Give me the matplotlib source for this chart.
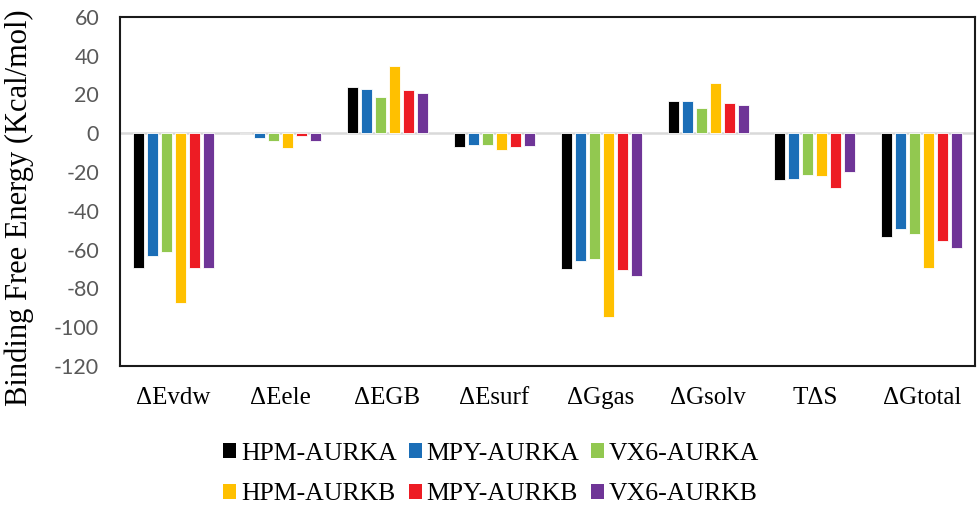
import numpy as np
import matplotlib.pyplot as plt
from matplotlib.patches import Patch

plt.rcParams['axes.unicode_minus'] = False

# Компоненты свободной энергии связывания (ккал/моль)
categories = ['ΔEvdw', 'ΔEele', 'ΔEGB', 'ΔEsurf', 'ΔGgas', 'ΔGsolv', 'TΔS', 'ΔGtotal']
complexes = ['HPM-AURKA', 'MPY-AURKA', 'VX6-AURKA', 'HPM-AURKB', 'MPY-AURKB', 'VX6-AURKB']

hpm_aurka = [-69.6, -0.3, 23.9, -6.9, -69.8, 16.8, -24.3, -53.3]
mpy_aurka = [-63.3, -2.2, 22.7, -6.2, -65.9, 16.7, -23.7, -49.4]
vx6_aurka = [-61.0, -4.1, 18.7, -5.9, -65.0, 13.0, -21.5, -52.1]
hpm_aurkb = [-87.4, -7.6, 34.7, -8.6, -94.9, 25.9, -22.0, -69.3]
mpy_aurkb = [-69.3, -1.2, 22.3, -6.9, -70.7, 15.6, -28.0, -55.4]
vx6_aurkb = [-69.6, -4.0, 20.8, -6.4, -73.8, 14.4, -20.1, -59.2]

series = [hpm_aurka, mpy_aurka, vx6_aurka, hpm_aurkb, mpy_aurkb, vx6_aurkb]
colors = ['#000000', '#1B6EB7', '#92C850', '#FFC000', '#ED1C24', '#6F3597']

fig = plt.figure(figsize=(9.77, 5.12), dpi=100)
ax = fig.add_axes([0.1228, 0.285, 0.8755, 0.682])

x = np.arange(len(categories))
pitch = 0.131
width = 0.103
for i, (vals, c) in enumerate(zip(series, colors)):
    ax.bar(x + (i - 2.5) * pitch, vals, width, color=c, edgecolor='white',
           linewidth=0.6, zorder=3)

# нулевая линия
ax.axhline(0, color='#d9d9d9', linewidth=1.8, zorder=2)

ax.set_xlim(-0.5, len(categories) - 0.5)
ax.set_ylim(-120, 60)
ax.set_yticks(np.arange(-120, 61, 20))
ax.set_xticks(x)
ax.set_xticklabels(categories, fontfamily='Liberation Serif', fontsize=18)
ax.tick_params(axis='y', length=0, labelsize=15.5, labelcolor='#595959', pad=15)
ax.tick_params(axis='x', length=0, pad=15)
for lbl in ax.get_yticklabels():
    lbl.set_fontfamily('Lato')
for s in ax.spines.values():
    s.set_linewidth(1.5)
    s.set_color('#1a1a1a')

ax.set_ylabel('Binding Free Energy (Kcal/mol)', fontfamily='Liberation Serif',
              fontsize=22)
ax.yaxis.set_label_coords(-0.1, 0.455)

# легенда построчно: 3 столбца, порядок по строкам
handles = [Patch(facecolor=c, edgecolor='none') for c in colors]
order = [0, 3, 1, 4, 2, 5]
fig.legend([handles[i] for i in order], [complexes[i] for i in order],
           ncol=3, loc='center', bbox_to_anchor=(0.503, 0.074), frameon=False,
           prop={'family': 'Liberation Serif', 'size': 18.5},
           handlelength=0.5, handleheight=0.5, handletextpad=0.2,
           columnspacing=0.45, labelspacing=0.73)

fig.savefig('out.png', dpi=100)
